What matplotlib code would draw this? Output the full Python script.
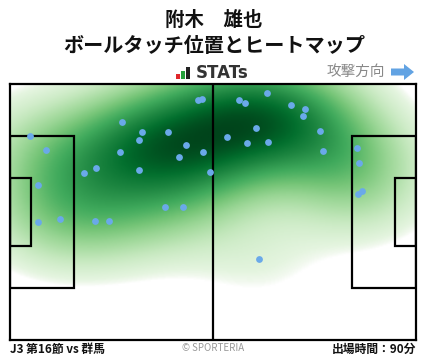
import numpy as np
import matplotlib
matplotlib.use("Agg")
import matplotlib.pyplot as plt
from matplotlib.patches import Rectangle, FancyArrow
from matplotlib.colors import LinearSegmentedColormap

plt.rcParams['font.family'] = ['Noto Sans CJK JP', 'DejaVu Sans']

title_name = "附木　雄也"
title_sub = "ボールタッチ位置とヒートマップ"
footer_left = "J3 第16節 vs 群馬"
footer_right = "出場時間：90分"
footer_mid = "© SPORTERIA"
direction_label = "攻撃方向"

# touch positions (pitch coords: x 0-105 attack to right, y 0-68 bottom to top)
touch_x = [48.7, 49.7, 29.0, 34.2, 40.9, 33.4, 45.6, 5.3, 9.4, 28.5, 43.8, 50.0,
           22.3, 19.2, 33.4, 51.7, 7.3, 40.2, 44.8, 13.0, 7.3, 22.1, 25.7, 64.5,
           66.5, 59.3, 60.9, 72.8, 76.4, 75.9, 63.7, 56.2, 61.4, 66.8, 80.3, 81.0,
           89.8, 90.3, 91.1, 90.1]
touch_y = [63.8, 63.9, 57.8, 55.2, 55.2, 53.1, 51.7, 54.1, 50.4, 49.9, 48.5, 49.9,
           45.6, 44.3, 45.1, 44.6, 41.1, 35.3, 35.3, 32.1, 31.3, 31.5, 31.5, 21.4,
           65.5, 63.7, 62.9, 62.3, 61.3, 59.4, 56.2, 53.8, 52.3, 52.5, 55.4, 50.1,
           50.9, 46.9, 39.5, 38.7]

L, W = 105.0, 68.0

fig = plt.figure(figsize=(4.28, 3.59), dpi=100)
ax = fig.add_axes([10/428, 19/359, 406/428, 256/359])

# KDE heatmap
gx = np.linspace(0, L, 300)
gy = np.linspace(0, W, 200)
GX, GY = np.meshgrid(gx, gy)
px = np.array(touch_x)
py = np.array(touch_y)
bx, by = 13.0, 10.0
Z = np.zeros_like(GX)
for xi, yi in zip(px, py):
    Z += np.exp(-0.5 * (((GX - xi) / bx) ** 2 + ((GY - yi) / by) ** 2))
Z /= Z.max()
thr = 0.07
Zf = np.clip((Z - thr) / (1 - thr), 0, 1) ** 0.85
greens = plt.get_cmap('Greens')
cmap = LinearSegmentedColormap.from_list(
    'wg', [(0.0, '#ffffff'), (0.02, '#f2f9ef')] +
    [(v, greens(0.08 + 0.92 * v)) for v in np.linspace(0.05, 1.0, 20)])
ax.imshow(Zf, extent=[0, L, 0, W], origin='lower', cmap=cmap, vmin=0.0, vmax=1.0,
          aspect='auto', interpolation='bilinear', zorder=1)

lw = 1.6
lc = 'black'
ax.plot([L/2, L/2], [0, W], color=lc, lw=lw, zorder=3)
pa_d, pa_w = 16.5, 40.3
ga_d, ga_w = 5.5, 18.3
for x0 in [0, L - pa_d]:
    ax.add_patch(Rectangle((x0, W/2 - pa_w/2), pa_d, pa_w, fill=False, ec=lc, lw=lw, zorder=3))
for x0 in [0, L - ga_d]:
    ax.add_patch(Rectangle((x0, W/2 - ga_w/2), ga_d, ga_w, fill=False, ec=lc, lw=lw, zorder=3))

ax.scatter(px, py, s=24, color='#6aa9e9', zorder=4, linewidths=0)

ax.set_xlim(0, L)
ax.set_ylim(0, W)
ax.set_xticks([])
ax.set_yticks([])
for s in ax.spines.values():
    s.set_linewidth(1.6)
    s.set_color('black')

fig.text(214/428, 1 - 20/359, title_name, ha='center', va='center', fontsize=14, fontweight='bold', color='#111111')
fig.text(214/428, 1 - 46/359, title_sub, ha='center', va='center', fontsize=14.5, fontweight='bold', color='#111111')

# STATs logo
logo_ax = fig.add_axes([176/428, 1 - 79/359, 14/428, 12/359])
logo_ax.bar([0, 1, 2], [0.45, 0.7, 1.0], color=['#e0262b', '#25a03c', '#222222'], width=0.8)
logo_ax.set_xlim(-0.5, 2.5)
logo_ax.set_ylim(0, 1)
logo_ax.axis('off')
fig.text(196/428, 1 - 73/359, "STATs", ha='left', va='center', fontsize=12, fontweight='bold', color='#333333', family=['DejaVu Sans'])

fig.text(385/428, 1 - 72/359, direction_label, ha='right', va='center', fontsize=10.5, color='#888888')
arr_ax = fig.add_axes([390/428, 1 - 81/359, 26/428, 18/359])
arr_ax.set_xlim(0, 26)
arr_ax.set_ylim(0, 18)
arr_ax.add_patch(FancyArrow(1, 9, 23, 0, width=7, head_width=16, head_length=10,
                            length_includes_head=True, color='#62a3e3', lw=0))
arr_ax.axis('off')

fig.text(10/428, 1 - 349/359, footer_left, ha='left', va='center', fontsize=8.5, fontweight='bold', color='#111111')
fig.text(213/428, 1 - 348/359, footer_mid, ha='center', va='center', fontsize=7, color='#999999')
fig.text(416/428, 1 - 349/359, footer_right, ha='right', va='center', fontsize=8.5, fontweight='bold', color='#111111')

fig.savefig('out.png', dpi=100)
